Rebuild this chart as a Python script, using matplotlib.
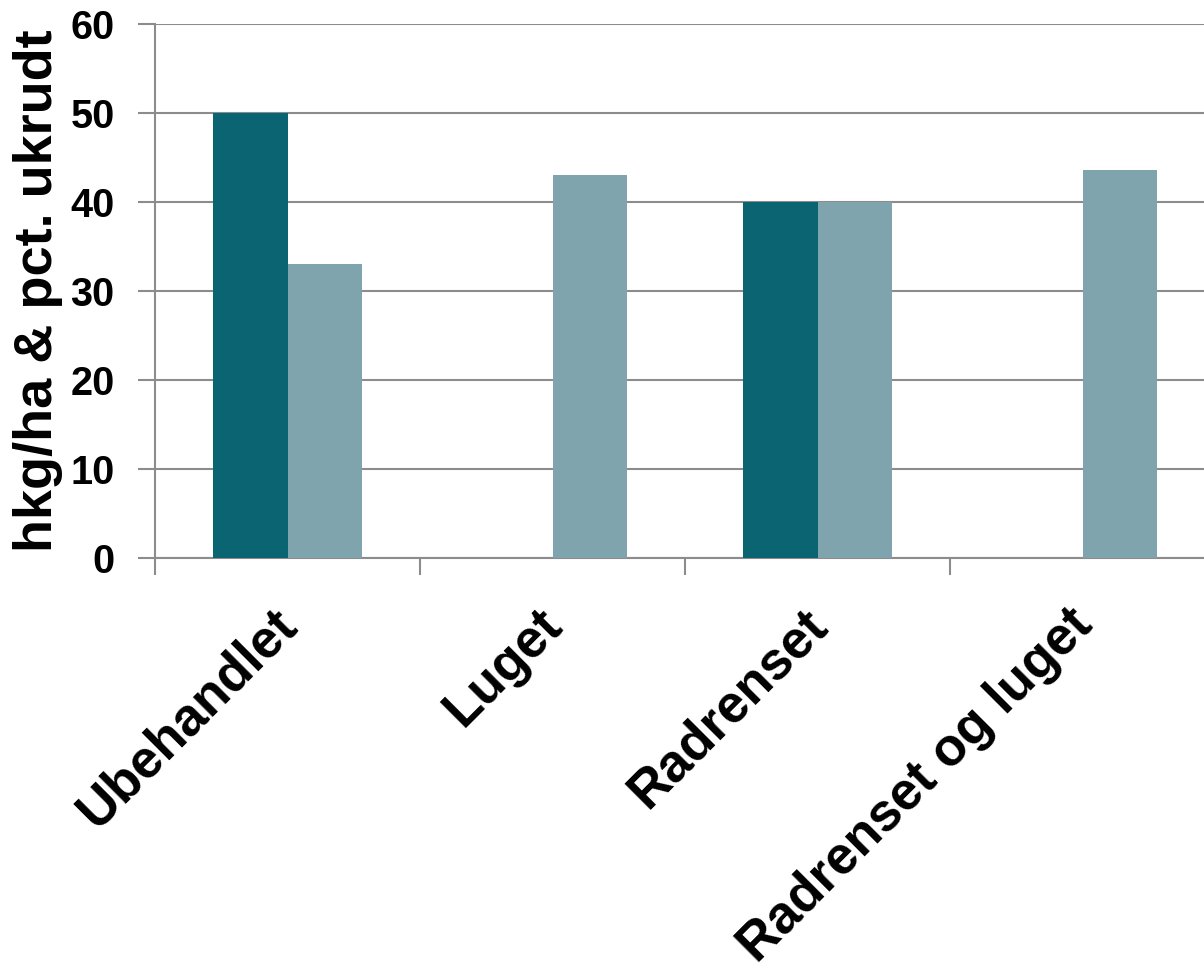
import numpy as np
import matplotlib
matplotlib.use('Agg')
from matplotlib import pyplot as plt
from matplotlib.transforms import ScaledTranslation

categories = ['Ubehandlet', 'Luget', 'Radrenset', 'Radrenset og luget']
hkg_ha = [50, 0, 40, 0]
pct_ukrudt = [33, 43, 40, 43.6]

DARK = '#0b6472'
LIGHT = '#7fa4ad'
GRID = '#8c8c8c'

plt.rcParams['font.family'] = ['Liberation Sans', 'DejaVu Sans']
plt.rcParams['font.weight'] = 'bold'

fig = plt.figure(figsize=(12.04, 9.74), dpi=100)
ax = fig.add_axes([155 / 1204, 416 / 974, 1060 / 1204, 534 / 974])

x = np.arange(len(categories))
w = 0.283
ax.bar(x - w / 2, hkg_ha, width=w, color=DARK, zorder=3)
ax.bar(x + w / 2, pct_ukrudt, width=w, color=LIGHT, zorder=3)

ax.set_xlim(-0.5, len(categories) - 0.5)
ax.set_ylim(0, 60)
ax.set_yticks(np.arange(0, 61, 10))
ax.yaxis.grid(True, color=GRID, linewidth=1.5, zorder=0)

for side in ['top', 'right']:
    ax.spines[side].set_visible(False)
ax.spines['left'].set_color(GRID)
ax.spines['left'].set_linewidth(1.5)
ax.spines['bottom'].set_color(GRID)
ax.spines['bottom'].set_linewidth(1.5)

ax.tick_params(axis='y', direction='out', length=12, width=1.5, color=GRID,
               labelsize=28.5, pad=17)
ax.set_xticks(x)
ax.set_xticks(np.arange(-0.5, len(categories), 1.0), minor=True)
ax.tick_params(axis='x', which='major', length=0, labelsize=38, pad=12)
ax.tick_params(axis='x', which='minor', direction='out', length=12, width=1.5, color=GRID)
ax.set_xticklabels(categories, rotation=45, ha='right', rotation_mode='anchor')

# nudge the rotated category labels down/left to sit like the original
shift = ScaledTranslation(-0.16, -0.25, fig.dpi_scale_trans)
for lbl in ax.get_xticklabels():
    lbl.set_transform(lbl.get_transform() + shift)

ax.set_ylabel('hkg/ha & pct. ukrudt', fontsize=39, fontweight='bold')
ax.yaxis.set_label_coords(-0.087, 0.5)

fig.savefig('out.png', dpi=100)
